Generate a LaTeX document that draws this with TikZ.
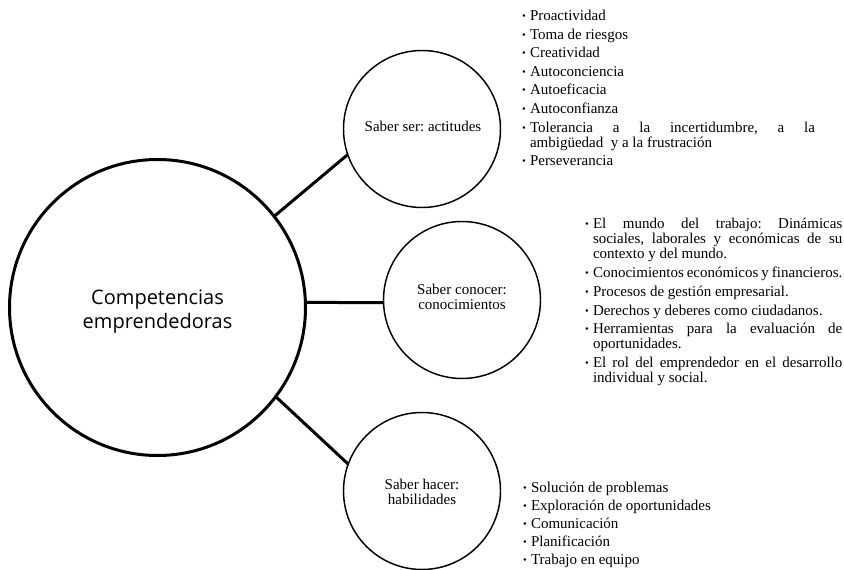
\documentclass[tikz,border=0pt]{standalone}
\usepackage{fontspec}
\setmainfont{Liberation Serif}
\newfontfamily\headfont{Open Sans}
\usepackage{tikz}

\frenchspacing
\hyphenpenalty=10000
\exhyphenpenalty=10000
\newlength{\entrysep}
\newcommand{\bulletmark}{\raisebox{0.8pt}{\scalebox{0.7}{\textbullet}}}
\newcommand{\listentry}[1]{\par\noindent\hangindent=6pt\hangafter=1\makebox[6pt][l]{\bulletmark}#1\par\vskip\entrysep}

\begin{document}
\begin{tikzpicture}[x=0.75pt, y=-0.75pt,
    every node/.style={inner sep=0pt, outer sep=0pt},
    maincircle/.style={circle, draw, line width=2.25pt, minimum size=222pt},
    subcircle/.style={circle, draw, line width=1.1pt, minimum size=117.75pt},
    maintext/.style={align=center, font=\headfont\fontsize{15}{18}\selectfont},
    circletext/.style={align=center, font=\fontsize{11.25}{11.25}\selectfont},
    itemlist/.style={anchor=north west, align=justify, font=\fontsize{11.25}{11.25}\selectfont\setlength{\entrysep}{#1}},
    itemlist/.default=2.25pt,
    connector/.style={line width=2.25pt}]
\useasboundingbox (0,0) rectangle (844,570);
\begin{scope}
    \node[maincircle] (comp) at (157.5,307.5) {};
    \node[maintext] (comptext) at (157.5,312) {Competencias\\emprendedoras};

    \node[subcircle] (ser) at (422,129) {};
    \node[subcircle] (conocer) at (462,300) {};
    \node[subcircle] (hacer) at (422,491) {};
    \node[circletext] (sertext) at (423,126) {Saber ser: actitudes};
    \node[circletext] (conocertext) at (462,297) {Saber conocer:\\conocimientos};
    \node[circletext] (hacertext) at (422,492) {Saber hacer:\\habilidades};

    \path [connector] (comp.38) edge (ser.199);
    \path [connector] (comp.2) edge (conocer.182);
    \path [connector] (comp.-37) edge (hacer.160);

    % listas de cada saber
    \node[itemlist=2.7pt, text width=219.75pt] (serlist) at (522,5.5) {%
        \listentry{Proactividad}
        \listentry{Toma de riesgos}
        \listentry{Creatividad}
        \listentry{Autoconciencia}
        \listentry{Autoeficacia}
        \listentry{Autoconfianza}
        \listentry{Tolerancia a la incertidumbre, a la\linebreak ambigüedad\ \ y a la frustración}
        \listentry{Perseverancia}};
    \node[itemlist=2.8pt, text width=193pt] (conocerlist) at (585,214) {%
        \listentry{El mundo del trabajo: Dinámicas\linebreak sociales, laborales y económicas de su\linebreak contexto y del mundo.}
        \listentry{Conocimientos económicos y financieros.}
        \listentry{Procesos de gestión empresarial.}
        \listentry{Derechos y deberes como ciudadanos.}
        \listentry{Herramientas para la evaluación de\linebreak oportunidades.}
        \listentry{El rol del emprendedor en el desarrollo\linebreak individual y social.}};
    \node[itemlist, text width=148pt] (hacerlist) at (523,478) {%
        \listentry{Solución de problemas}
        \listentry{Exploración de oportunidades}
        \listentry{Comunicación}
        \listentry{Planificación}
        \listentry{Trabajo en equipo}};
\end{scope}
\end{tikzpicture}
\end{document}
